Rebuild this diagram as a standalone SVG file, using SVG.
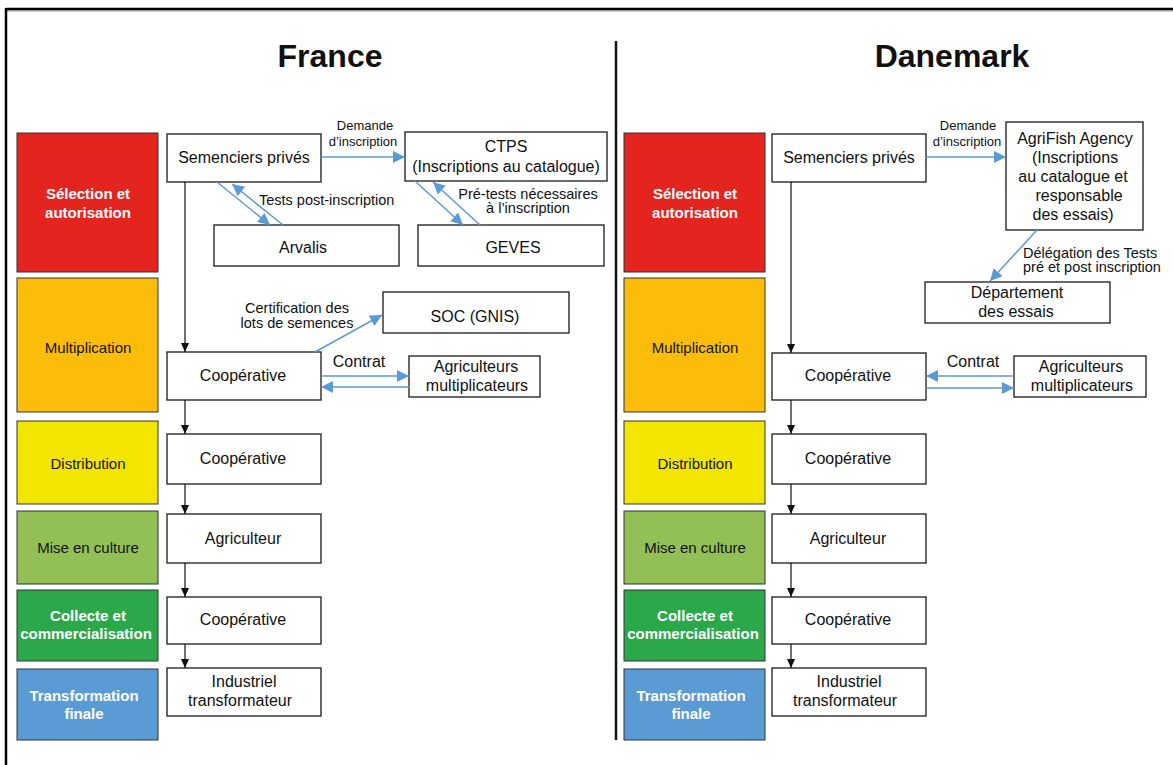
<svg xmlns="http://www.w3.org/2000/svg" width="1173" height="765" viewBox="0 0 1173 765">
<style>
text{font-family:"Liberation Sans",Arial,sans-serif;fill:#111}
.title{font-size:32px;font-weight:bold;text-anchor:middle}
.node rect{fill:#fff;stroke:#1a1a1a;stroke-width:1.3}
.node text{font-size:16px;text-anchor:middle}
.stage rect{stroke:#333;stroke-width:1}
.stage text{font-size:15px;text-anchor:middle}
.stage .w{fill:#fff;font-weight:bold}
.blue{stroke:#5B9BD5;stroke-width:1.5;fill:none;marker-end:url(#ab)}
.black{stroke:#111;stroke-width:1.2;fill:none;marker-end:url(#ak)}
.lbl{font-size:14.5px}
.sm{font-size:13px;text-anchor:middle}
</style>
<defs>
<marker id="ab" markerUnits="userSpaceOnUse" markerWidth="12" markerHeight="12" refX="12" refY="6" orient="auto"><path d="M0,0 L12,6 L0,12 z" fill="#5B9BD5"/></marker>
<marker id="ak" markerUnits="userSpaceOnUse" markerWidth="9" markerHeight="8" refX="9" refY="4" orient="auto"><path d="M0,0 L9,4 L0,8 z" fill="#111"/></marker>
</defs>
<rect x="0" y="0" width="1173" height="765" fill="#fff"/>
<g id="frame">
<line x1="6" y1="11" x2="1173" y2="11" stroke="#bbb" stroke-width="1.5"/>
<line x1="6" y1="9" x2="1173" y2="9" stroke="#000" stroke-width="2.5"/>
<line x1="6" y1="8" x2="6" y2="765" stroke="#000" stroke-width="2.5"/>
<line x1="616" y1="41" x2="616" y2="740" stroke="#111" stroke-width="2.5"/>
</g>
<text class="title" x="330" y="67">France</text>
<text class="title" x="952" y="67">Danemark</text>

<!-- France stages -->
<g id="fr-stage-selection" class="stage"><rect x="17" y="133" width="141" height="139" fill="#E3241F"/><text class="w" x="88" y="199">Sélection et</text><text class="w" x="88" y="218">autorisation</text></g>
<g id="fr-stage-multiplication" class="stage"><rect x="17" y="278" width="141" height="134" fill="#FBBD0A"/><text x="88" y="353">Multiplication</text></g>
<g id="fr-stage-distribution" class="stage"><rect x="17" y="421" width="141" height="83" fill="#F2E500"/><text x="88" y="469">Distribution</text></g>
<g id="fr-stage-culture" class="stage"><rect x="17" y="511" width="141" height="73" fill="#92C057"/><text x="88" y="553">Mise en culture</text></g>
<g id="fr-stage-collecte" class="stage"><rect x="17" y="590" width="141" height="71" fill="#2BA84A"/><text class="w" x="88" y="621">Collecte et</text><text class="w" x="86" y="639">commercialisation</text></g>
<g id="fr-stage-transformation" class="stage"><rect x="17" y="669" width="141" height="71" fill="#5B9BD5"/><text class="w" x="84" y="701">Transformation</text><text class="w" x="84" y="719">finale</text></g>

<!-- Danemark stages -->
<g id="dk-stage-selection" class="stage"><rect x="624" y="133" width="141" height="139" fill="#E3241F"/><text class="w" x="695" y="199">Sélection et</text><text class="w" x="695" y="218">autorisation</text></g>
<g id="dk-stage-multiplication" class="stage"><rect x="624" y="278" width="141" height="134" fill="#FBBD0A"/><text x="695" y="353">Multiplication</text></g>
<g id="dk-stage-distribution" class="stage"><rect x="624" y="421" width="141" height="83" fill="#F2E500"/><text x="695" y="469">Distribution</text></g>
<g id="dk-stage-culture" class="stage"><rect x="624" y="511" width="141" height="73" fill="#92C057"/><text x="695" y="553">Mise en culture</text></g>
<g id="dk-stage-collecte" class="stage"><rect x="624" y="590" width="141" height="71" fill="#2BA84A"/><text class="w" x="695" y="621">Collecte et</text><text class="w" x="693" y="639">commercialisation</text></g>
<g id="dk-stage-transformation" class="stage"><rect x="624" y="669" width="141" height="71" fill="#5B9BD5"/><text class="w" x="691" y="701">Transformation</text><text class="w" x="691" y="719">finale</text></g>

<!-- France nodes -->
<g id="fr-semenciers" class="node"><rect x="167" y="134" width="154" height="48"/><text x="244" y="163">Semenciers privés</text></g>
<g id="fr-ctps" class="node"><rect x="405" y="132" width="202" height="49"/><text x="506" y="152">CTPS</text><text x="506" y="172">(Inscriptions au catalogue)</text></g>
<g id="fr-arvalis" class="node"><rect x="214" y="225" width="185" height="41"/><text x="303" y="253">Arvalis</text></g>
<g id="fr-geves" class="node"><rect x="418" y="225" width="186" height="41"/><text x="513" y="253">GEVES</text></g>
<g id="fr-soc" class="node"><rect x="383" y="292" width="186" height="41"/><text x="475" y="322">SOC (GNIS)</text></g>
<g id="fr-coop1" class="node"><rect x="167" y="352" width="154" height="48"/><text x="243" y="381">Coopérative</text></g>
<g id="fr-agrimult" class="node"><rect x="409" y="356" width="131" height="41"/><text x="476" y="372">Agriculteurs</text><text x="477" y="391">multiplicateurs</text></g>
<g id="fr-coop2" class="node"><rect x="167" y="434" width="154" height="50"/><text x="243" y="464">Coopérative</text></g>
<g id="fr-agriculteur" class="node"><rect x="167" y="514" width="154" height="49"/><text x="243" y="544">Agriculteur</text></g>
<g id="fr-coop3" class="node"><rect x="167" y="597" width="154" height="47"/><text x="243" y="625">Coopérative</text></g>
<g id="fr-industriel" class="node"><rect x="167" y="668" width="154" height="48"/><text x="244" y="687">Industriel</text><text x="240" y="706">transformateur</text></g>

<!-- Danemark nodes -->
<g id="dk-semenciers" class="node"><rect x="772" y="134" width="154" height="48"/><text x="849" y="163">Semenciers privés</text></g>
<g id="dk-agrifish" class="node"><rect x="1006" y="122" width="137" height="108"/><text x="1075" y="144">AgriFish Agency</text><text x="1075" y="163">(Inscriptions</text><text x="1073" y="182">au catalogue et</text><text x="1079" y="201">responsable</text><text x="1073" y="220">des essais)</text></g>
<g id="dk-departement" class="node"><rect x="925" y="282" width="185" height="41"/><text x="1017" y="298">Département</text><text x="1016" y="317">des essais</text></g>
<g id="dk-coop1" class="node"><rect x="772" y="353" width="154" height="47"/><text x="848" y="381">Coopérative</text></g>
<g id="dk-agrimult" class="node"><rect x="1014" y="356" width="132" height="41"/><text x="1081" y="372">Agriculteurs</text><text x="1082" y="391">multiplicateurs</text></g>
<g id="dk-coop2" class="node"><rect x="772" y="434" width="154" height="50"/><text x="848" y="464">Coopérative</text></g>
<g id="dk-agriculteur" class="node"><rect x="772" y="514" width="154" height="49"/><text x="848" y="544">Agriculteur</text></g>
<g id="dk-coop3" class="node"><rect x="772" y="597" width="154" height="47"/><text x="848" y="625">Coopérative</text></g>
<g id="dk-industriel" class="node"><rect x="772" y="668" width="154" height="48"/><text x="849" y="687">Industriel</text><text x="845" y="706">transformateur</text></g>

<!-- connectors -->
<g id="connectors">
<line class="black" x1="185" y1="182" x2="185" y2="352"/>
<line class="black" x1="185" y1="400" x2="185" y2="434"/>
<line class="black" x1="185" y1="484" x2="185" y2="514"/>
<line class="black" x1="185" y1="563" x2="185" y2="597"/>
<line class="black" x1="185" y1="644" x2="185" y2="668"/>
<line class="black" x1="791" y1="182" x2="791" y2="353"/>
<line class="black" x1="791" y1="400" x2="791" y2="434"/>
<line class="black" x1="791" y1="484" x2="791" y2="514"/>
<line class="black" x1="791" y1="563" x2="791" y2="597"/>
<line class="black" x1="791" y1="644" x2="791" y2="668"/>

<line class="blue" x1="321" y1="157" x2="405" y2="157"/>
<line class="blue" x1="217" y1="182" x2="270" y2="225"/>
<line class="blue" x1="283" y1="225" x2="232" y2="184"/>
<line class="blue" x1="415" y1="181" x2="463" y2="225"/>
<line class="blue" x1="480" y1="225" x2="433" y2="182"/>
<line class="blue" x1="315" y1="352" x2="382" y2="315"/>
<line class="blue" x1="321" y1="376" x2="409" y2="376"/>
<line class="blue" x1="409" y1="387" x2="321" y2="387"/>

<line class="blue" x1="926" y1="157" x2="1006" y2="157"/>
<line class="blue" x1="1037" y1="230" x2="990" y2="281"/>
<line class="blue" x1="1014" y1="376" x2="926" y2="376"/>
<line class="blue" x1="926" y1="388" x2="1014" y2="388"/>

<text class="sm" x="365" y="130">Demande</text>
<text class="sm" x="363" y="146">d’inscription</text>
<text class="lbl" x="259" y="205">Tests post-inscription</text>
<text class="lbl" x="528" y="199" text-anchor="middle">Pré-tests nécessaires</text>
<text class="lbl" x="528" y="213" text-anchor="middle">à l’inscription</text>
<text class="lbl" x="297" y="313" text-anchor="middle">Certification des</text>
<text class="lbl" x="297" y="328" text-anchor="middle">lots de semences</text>
<text x="359" y="367" font-size="16" text-anchor="middle">Contrat</text>

<text class="sm" x="968" y="130">Demande</text>
<text class="sm" x="967" y="146">d’inscription</text>
<text class="lbl" x="1023" y="258">Délégation des Tests</text>
<text class="lbl" x="1023" y="272">pré et post inscription</text>
<text x="973" y="367" font-size="16" text-anchor="middle">Contrat</text>
</g>
</svg>
